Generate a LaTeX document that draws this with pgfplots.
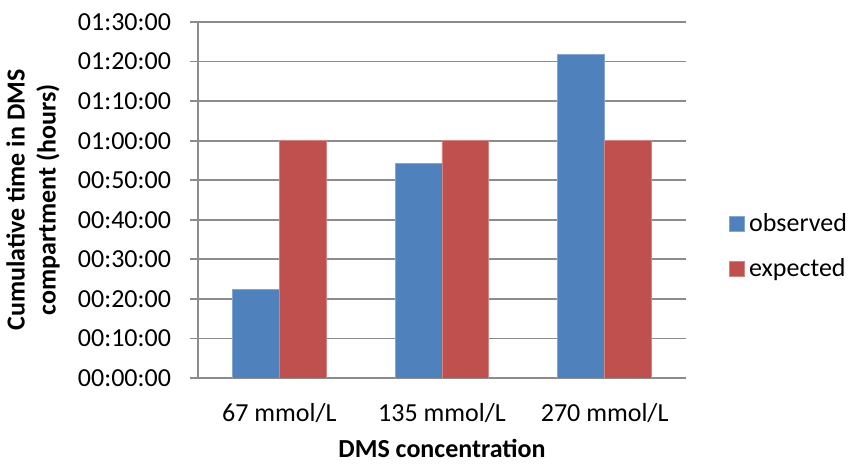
\documentclass[border=0pt]{standalone}
\usepackage{fontspec}
\setmainfont{Carlito}
\usepackage{pgfplots}
\pgfplotsset{compat=1.18}
\definecolor{obs}{HTML}{4F81BD}
\definecolor{expc}{HTML}{C0504D}
\definecolor{gridc}{HTML}{8C8C8C}
\begin{document}
\begin{tikzpicture}
\useasboundingbox (-99pt,-43pt) rectangle (326.5pt,189pt);
\begin{axis}[
  at={(0pt,0pt)}, anchor=south west,
  scale only axis, width=244pt, height=178pt,
  ybar=0pt, bar width=0.288,
  xmin=-0.5, xmax=2.5,
  ymin=0, ymax=90,
  xtick={0,1,2}, xticklabels={67 mmol/L,135 mmol/L,270 mmol/L},
  ytick={0,10,...,90},
  yticklabels={00:00:00,00:10:00,00:20:00,00:30:00,00:40:00,00:50:00,01:00:00,01:10:00,01:20:00,01:30:00},
  major x tick style={draw=none},
  ytick style={draw=gridc, line width=0.9pt},
  tick align=outside, major tick length=4pt,
  ymajorgrids, grid style={draw=gridc, line width=0.9pt},
  axis line style={draw=gridc, line width=0.9pt},
  axis x line*=bottom, axis y line*=left,
  every tick label/.append style={font=\fontsize{13}{15}\selectfont},
  xticklabel style={yshift=-5pt},
  yticklabel style={xshift=-6pt},
  xlabel={DMS concentration},
  ylabel={Cumulative time in DMS\\compartment (hours)},
  xlabel style={at={(axis description cs:0.5,-0.198)}, anchor=center, font=\fontsize{13}{15}\selectfont\bfseries},
  ylabel style={at={(axis description cs:-0.338,0.5)}, anchor=center, align=center, font=\fontsize{13}{15.5}\selectfont\bfseries},
  legend style={at={(1.088,0.37)}, anchor=west, draw=none, fill=none, font=\fontsize{13}{15}\selectfont, row sep=8pt, inner sep=0pt},
  legend cell align=left,
  legend image code/.code={\fill[#1] (0pt,-3.75pt) rectangle (7.5pt,3.75pt);},
]
\addplot[fill=obs, draw=obs!70!white, line width=0.4pt] coordinates {(0,22.4) (1,54.2) (2,81.9)};
\addplot[fill=expc, draw=expc!70!white, line width=0.4pt] coordinates {(0,60) (1,60) (2,60)};
\legend{observed,expected}
\end{axis}
\end{tikzpicture}
\end{document}
